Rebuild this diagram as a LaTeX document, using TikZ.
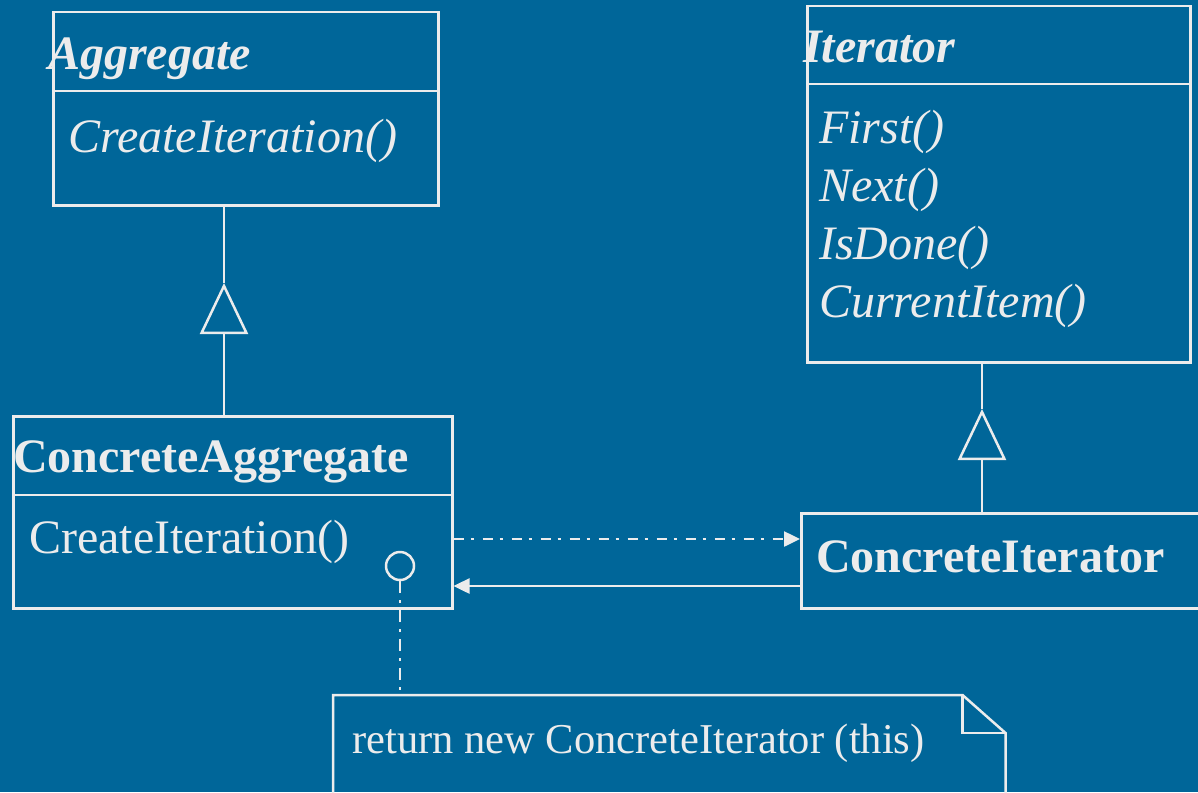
\documentclass[tikz,border=0pt]{standalone}
\usepackage{fontspec}
\setmainfont{Liberation Serif}
\usetikzlibrary{arrows.meta,positioning}
\definecolor{SlideBlue}{RGB}{0,102,153}
\definecolor{InkGray}{RGB}{236,236,236}

\tikzset{
  classbox/.style={draw, anchor=north west, inner sep=0pt},
  member/.style={anchor=base west, inner sep=0pt, font=\fontsize{48}{56}\selectfont},
  notetext/.style={anchor=base west, inner sep=0pt, font=\fontsize{42.5}{50}\selectfont},
  inherit/.style={-{Triangle[open,length=51pt,width=48pt]}},
  realize/.style={dash pattern=on 10pt off 7pt on 3pt off 9pt, -{Triangle[length=16pt,width=15pt]}},
  navig/.style={-{Triangle[length=16pt,width=15pt]}}
}

\begin{document}
\begin{tikzpicture}[x=1pt,y=-1pt,line width=2.5pt,color=InkGray]
    \fill[SlideBlue] (0,0) rectangle (1198,792);
    \useasboundingbox (0,0) rectangle (1198,792);

    % Aggregate
    \node[classbox, minimum width=385pt, minimum height=193pt] (agg) at (52,11) {};
    \draw (agg.west |- 0,91) -- (agg.east |- 0,91);
    \node[member] (aggname) at (47,70) {\textbf{\textit{Aggregate}}};
    \node[member] (aggop) at (67,152) {\textit{CreateIteration()}};

    % Iterator
    \node[classbox, minimum width=383pt, minimum height=356pt] (it) at (806,5) {};
    \draw (it.west |- 0,84) -- (it.east |- 0,84);
    \node[member] (itname) at (802,63) {\textbf{\textit{Iterator}}};
    \foreach \m [count=\i] in {First(), Next(), IsDone(), CurrentItem()} {
      \node[member] (itop\i) at (818,85+58*\i) {\textit{\m}};
    }

    % ConcreteAggregate
    \node[classbox, minimum width=439pt, minimum height=192pt] (conagg) at (12,415) {};
    \draw (conagg.west |- 0,495) -- (conagg.east |- 0,495);
    \node[member] (conaggname) at (12,472) {\textbf{ConcreteAggregate}};
    \node[member] (conaggop) at (28,553) {CreateIteration()};
    \node[draw, circle, minimum size=28pt, inner sep=0pt] (port) at (400,566) {};

    % ConcreteIterator
    \node[classbox, minimum width=440pt, minimum height=95pt] (conit) at (800,512) {};
    \node[member] (conitname) at (815,572) {\textbf{ConcreteIterator}};

    % Note
    \node[anchor=north west, minimum width=670pt, minimum height=130pt, inner sep=0pt] (note) at (333,695) {};
    \draw (note.south west) -- (note.north west) -- ([xshift=-43pt]note.north east)
      -- ([yshift=-38pt]note.north east) -- (note.south east);
    \draw ([xshift=-43pt]note.north east) |- ([yshift=-38pt]note.north east);
    \node[notetext] (notetxt) at (351,753) {return new ConcreteIterator (this)};

    % Connectors
    \draw (agg.south -| 224,0) -- (224,283) coordinate (aggtip);
    \draw[inherit] (conagg.north -| aggtip) -- (aggtip);
    \draw (it.south -| 982,0) -- (982,409) coordinate (ittip);
    \draw[inherit] (conit.north -| ittip) -- (ittip);
    \draw[realize] (conagg.east |- 0,539) -- (conit.west |- 0,539);
    \draw[navig] (conit.west |- 0,586) -- (conagg.east |- 0,586);
    \draw[dash pattern=on 12pt off 7pt on 3pt off 7pt] (port.south) -- (port.south |- note.north);
\end{tikzpicture}
\end{document}
